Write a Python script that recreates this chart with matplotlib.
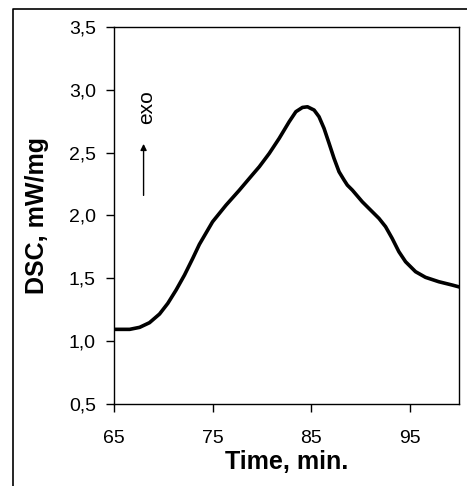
import matplotlib
matplotlib.use("Agg")
import matplotlib.pyplot as plt
from matplotlib.lines import Line2D

plt.rcParams['font.family'] = ['Liberation Sans', 'DejaVu Sans']

time_min = [65.0, 66.59, 67.6, 68.6, 69.62, 70.46, 71.3, 72.15, 72.99, 73.66,
            75.0, 76.36, 77.7, 79.05, 79.74, 80.75, 81.76, 82.77, 83.45, 84.12,
            84.63, 85.30, 85.8, 86.31, 86.82, 87.32, 87.83, 88.34, 88.67, 89.18,
            90.19, 91.2, 91.88, 92.55, 93.22, 93.9, 94.58, 95.59, 96.6, 97.95,
            99.29, 100.0]
dsc = [1.094, 1.094, 1.11, 1.147, 1.216, 1.301, 1.407, 1.526, 1.659, 1.77,
       1.95, 2.082, 2.20, 2.325, 2.388, 2.494, 2.614, 2.746, 2.826, 2.860,
       2.865, 2.839, 2.786, 2.693, 2.574, 2.455, 2.348, 2.282, 2.242, 2.202,
       2.109, 2.03, 1.977, 1.911, 1.818, 1.712, 1.632, 1.553, 1.508, 1.473,
       1.447, 1.432]

x_ticks = [65, 75, 85, 95]
y_ticks = [0.5, 1.0, 1.5, 2.0, 2.5, 3.0, 3.5]
y_tick_labels = ['0,5', '1,0', '1,5', '2,0', '2,5', '3,0', '3,5']

fig = plt.figure(figsize=(4.67, 4.86), dpi=100)
ax = fig.add_axes([114 / 467, 1 - 404 / 486, (459 - 114) / 467, (404 - 27) / 486])

ax.plot(time_min, dsc, color='black', lw=2.6, solid_joinstyle='round')

ax.set_xlim(65, 100)
ax.set_ylim(0.5, 3.5)
ax.set_xticks(x_ticks)
ax.set_xticklabels([str(v) for v in x_ticks])
ax.set_yticks(y_ticks)
ax.set_yticklabels(y_tick_labels)
ax.tick_params(direction='out', length=6, width=1, labelsize=14)
ax.tick_params(axis='x', pad=13)
ax.tick_params(axis='y', pad=7)
for s in ax.spines.values():
    s.set_linewidth(1.0)

ax.set_xlabel('Time, min.', fontsize=18, fontweight='bold', labelpad=2)
ax.set_ylabel('DSC, mW/mg', fontsize=18, fontweight='bold', labelpad=14.5)

# exo arrow
ax.annotate('', xy=(68.0, 2.57), xytext=(68.0, 2.16),
            arrowprops=dict(arrowstyle='-|>', color='black', lw=1.0,
                            mutation_scale=9, shrinkA=0, shrinkB=0))
ax.text(68.3, 2.864, 'exo', rotation=90, fontsize=15, ha='center', va='center')

# outer frame
fig.add_artist(Line2D([13 / 467, 13 / 467, 1.0], [0.0, 1 - 9.5 / 486, 1 - 9.5 / 486],
                      transform=fig.transFigure, color='black', lw=1.2))

fig.savefig('out.png', dpi=100)
